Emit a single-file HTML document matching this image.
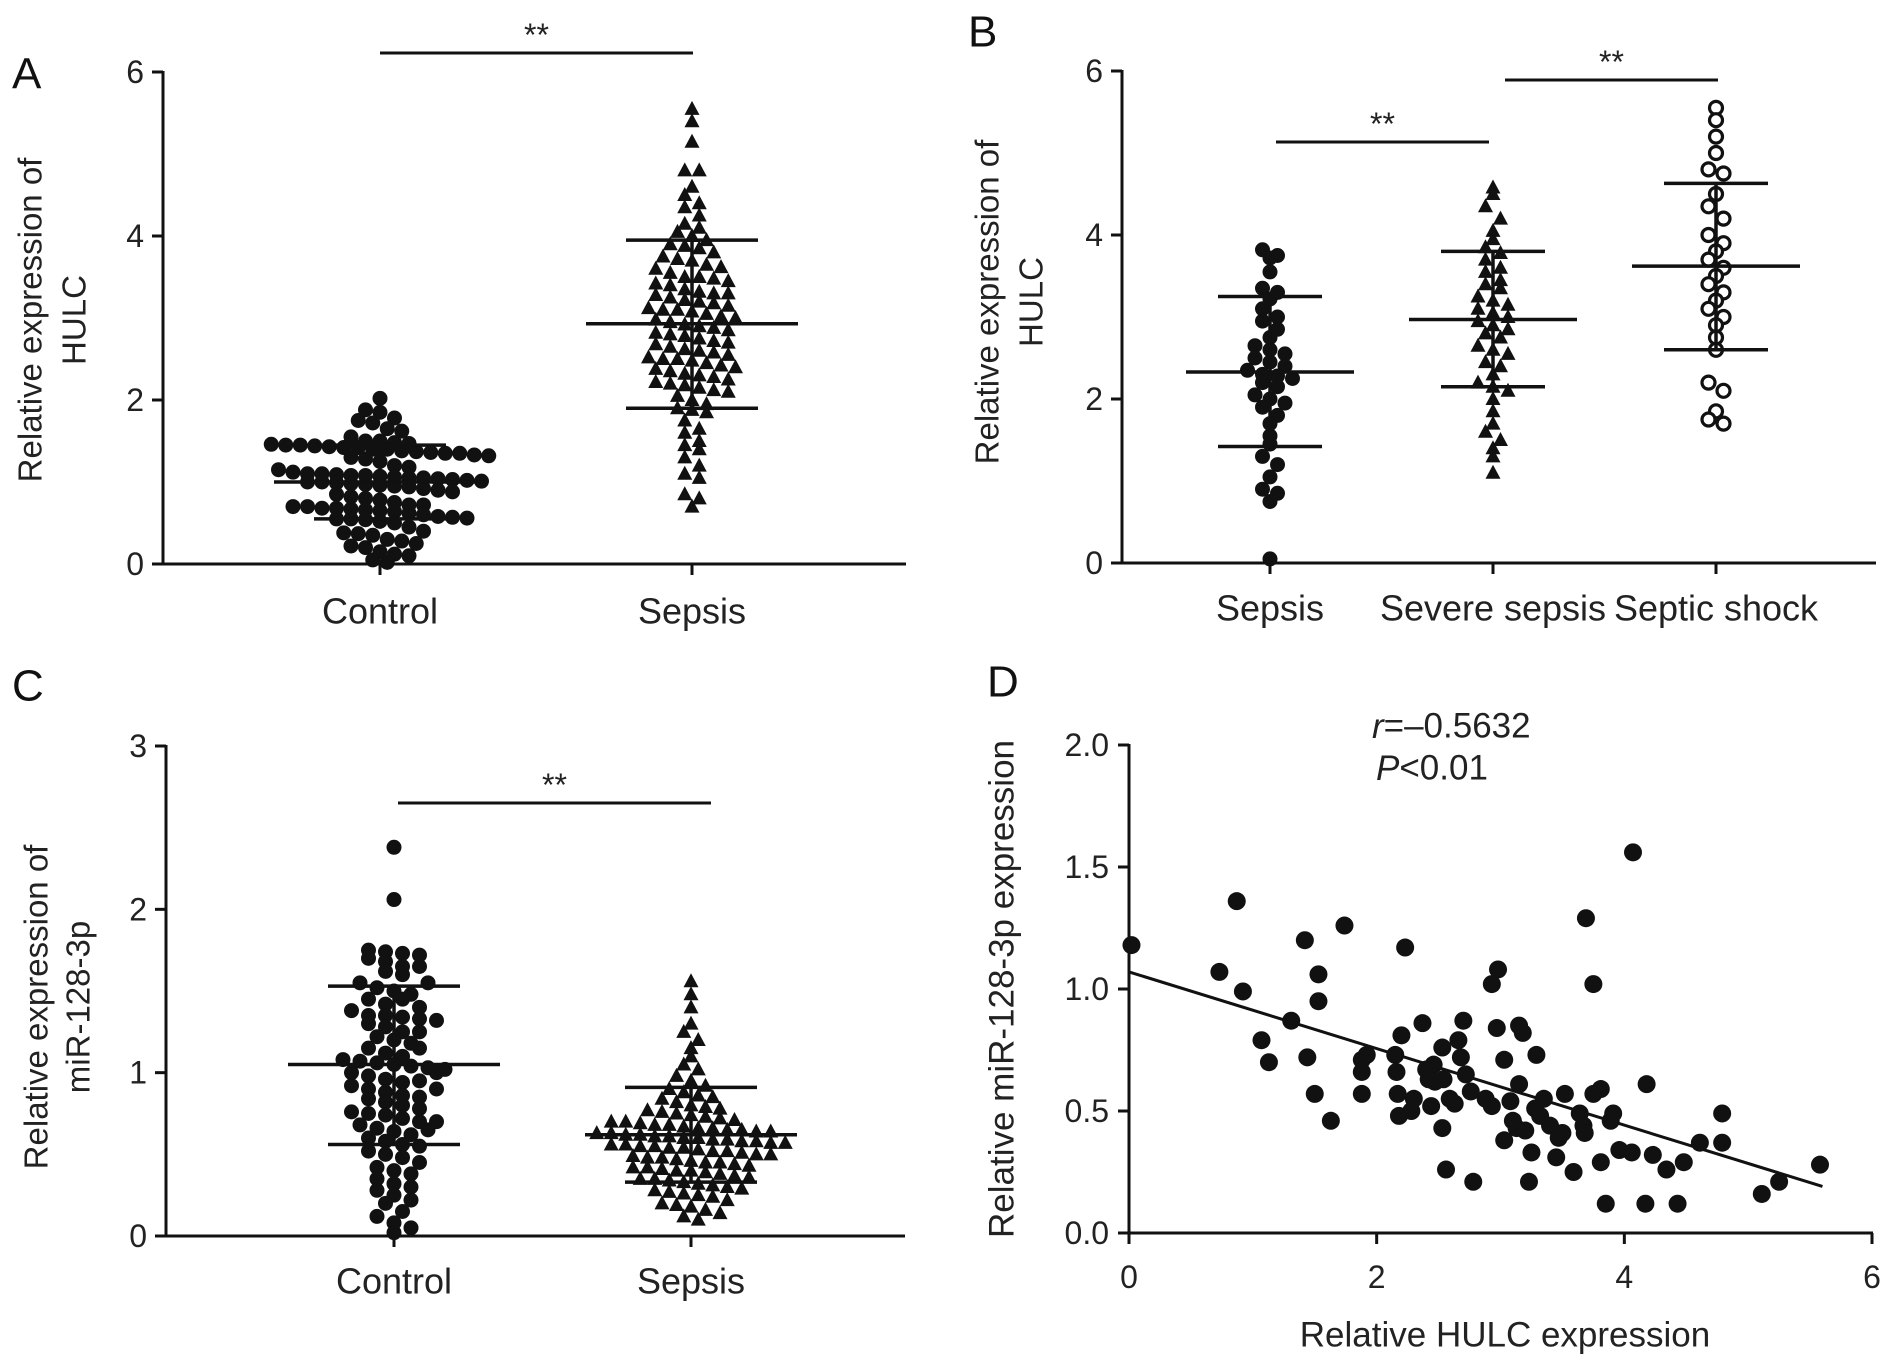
<!DOCTYPE html>
<html><head><meta charset="utf-8"><style>
html,body{margin:0;padding:0;background:#fff;}
svg{display:block;font-family:"Liberation Sans",Arial,sans-serif;}
</style></head><body>
<svg id="fig" width="1890" height="1367" viewBox="0 0 1890 1367" xmlns="http://www.w3.org/2000/svg"></svg>
<script>
// ---------- DATA ----------
const aCategories = ["Control","Sepsis"];
const aControl = [2.02,1.88,1.85,1.78,1.75,1.72,1.65,1.62,1.55,1.5,1.5,1.48,1.47,1.46,1.45,1.45,1.44,1.43,1.42,1.42,1.4,1.4,1.38,1.37,1.36,1.35,1.35,1.33,1.32,1.3,1.28,1.25,1.2,1.18,1.15,1.12,1.1,1.1,1.09,1.08,1.08,1.07,1.06,1.05,1.05,1.04,1.03,1.02,1.01,1.0,1.0,0.99,0.98,0.97,0.96,0.95,0.94,0.92,0.9,0.88,0.85,0.82,0.8,0.78,0.75,0.72,0.72,0.7,0.7,0.68,0.68,0.67,0.66,0.65,0.64,0.62,0.6,0.58,0.57,0.56,0.55,0.55,0.54,0.52,0.5,0.45,0.4,0.38,0.37,0.35,0.3,0.28,0.25,0.22,0.2,0.15,0.12,0.1,0.05,0.02];
const aSepsis = [5.55,5.4,5.15,4.8,4.8,4.6,4.5,4.4,4.35,4.25,4.15,4.1,4.05,4.0,3.95,3.9,3.88,3.85,3.8,3.75,3.72,3.7,3.65,3.62,3.6,3.55,3.5,3.5,3.48,3.45,3.42,3.4,3.35,3.32,3.3,3.3,3.28,3.25,3.22,3.2,3.18,3.15,3.12,3.1,3.1,3.08,3.05,3.02,3.0,2.98,2.95,2.92,2.9,2.88,2.85,2.82,2.8,2.78,2.75,2.72,2.7,2.68,2.65,2.62,2.6,2.58,2.55,2.52,2.5,2.5,2.48,2.45,2.42,2.4,2.38,2.35,2.32,2.3,2.28,2.25,2.22,2.2,2.18,2.15,2.12,2.1,2.05,2.0,1.95,1.9,1.88,1.85,1.75,1.65,1.6,1.5,1.45,1.4,1.3,1.2,1.1,1.05,0.85,0.8,0.7];
const aMeans = [1.0, 2.93];
const aSdHigh = [1.45, 3.95];
const aSdLow = [0.55, 1.9];
const aTicks = [0,2,4,6];

const bCategories = ["Sepsis","Severe sepsis","Septic shock"];
const bSepsis = [3.82,3.75,3.72,3.55,3.35,3.3,3.22,3.1,3.0,2.95,2.85,2.75,2.65,2.6,2.55,2.5,2.45,2.4,2.35,2.3,2.28,2.25,2.2,2.15,2.05,2.0,1.95,1.9,1.8,1.7,1.55,1.45,1.3,1.2,1.05,0.9,0.85,0.75,0.05];
const bSevere = [4.58,4.5,4.35,4.2,4.05,3.95,3.85,3.78,3.7,3.6,3.55,3.45,3.4,3.35,3.25,3.2,3.15,3.1,3.05,3.0,2.95,2.9,2.85,2.8,2.75,2.65,2.6,2.55,2.45,2.4,2.3,2.2,2.15,2.1,2.0,1.85,1.7,1.6,1.5,1.4,1.3,1.1];
const bShock = [5.55,5.4,5.2,5.0,4.8,4.75,4.5,4.35,4.2,4.0,3.9,3.8,3.7,3.6,3.5,3.4,3.3,3.2,3.1,3.0,2.9,2.75,2.6,2.2,2.1,1.85,1.75,1.7];
const bMeans = [2.33, 2.97, 3.62];
const bSdHigh = [3.25, 3.8, 4.63];
const bSdLow = [1.42, 2.15, 2.6];
const bTicks = [0,2,4,6];

const cCategories = ["Control","Sepsis"];
const cControl = [2.38,2.06,1.75,1.74,1.73,1.72,1.7,1.68,1.65,1.62,1.6,1.55,1.52,1.5,1.48,1.45,1.42,1.38,1.35,1.35,1.34,1.33,1.32,1.3,1.28,1.25,1.22,1.2,1.18,1.15,1.12,1.1,1.08,1.07,1.06,1.05,1.04,1.03,1.02,1.0,0.98,0.96,0.94,0.92,0.9,0.88,0.86,0.85,0.84,0.82,0.8,0.78,0.76,0.75,0.74,0.72,0.7,0.68,0.66,0.64,0.62,0.6,0.58,0.56,0.55,0.52,0.5,0.48,0.45,0.42,0.4,0.38,0.35,0.32,0.3,0.28,0.25,0.22,0.2,0.15,0.12,0.08,0.05,0.02,1.45,1.4,1.25,1.15,0.95,0.65,1.65,1.55,0.7,0.9,1.0];
const cSepsis = [1.56,1.48,1.4,1.3,1.25,1.2,1.15,1.1,1.05,1.02,0.98,0.95,0.92,0.9,0.88,0.86,0.85,0.84,0.82,0.8,0.79,0.78,0.77,0.76,0.75,0.74,0.73,0.72,0.71,0.7,0.7,0.69,0.68,0.68,0.67,0.66,0.66,0.65,0.65,0.64,0.64,0.63,0.63,0.62,0.62,0.61,0.61,0.6,0.6,0.59,0.59,0.58,0.58,0.57,0.57,0.56,0.56,0.55,0.55,0.54,0.54,0.53,0.52,0.52,0.51,0.5,0.5,0.49,0.48,0.48,0.47,0.46,0.45,0.45,0.44,0.43,0.42,0.42,0.41,0.4,0.4,0.39,0.38,0.37,0.36,0.35,0.35,0.34,0.33,0.32,0.31,0.3,0.29,0.28,0.27,0.26,0.25,0.24,0.22,0.2,0.19,0.18,0.16,0.14,0.12,0.1];
const cMeans = [1.05, 0.62];
const cSdHigh = [1.53, 0.91];
const cSdLow = [0.56, 0.33];
const cTicks = [0,1,2,3];

const dX = [0.02,0.73,0.87,0.92,1.31,1.42,1.53,1.53,1.07,1.13,1.44,1.5,1.63,1.74,1.88,1.92,1.88,1.88,2.15,2.16,2.17,2.18,2.2,2.23,2.3,2.28,2.37,2.4,2.42,2.46,2.47,2.44,2.53,2.54,2.53,2.56,2.59,2.63,2.66,2.68,2.7,2.72,2.76,2.78,2.88,2.93,2.93,2.98,2.97,3.03,3.03,3.08,3.1,3.13,3.15,3.15,3.18,3.2,3.23,3.25,3.28,3.29,3.32,3.35,3.4,3.45,3.47,3.5,3.52,3.59,3.64,3.67,3.68,3.69,3.75,3.75,3.81,3.81,3.85,3.89,3.91,3.96,4.06,4.07,4.17,4.18,4.23,4.34,4.43,4.48,4.61,4.79,4.79,5.11,5.25,5.58];
const dY = [1.18,1.07,1.36,0.99,0.87,1.2,1.06,0.95,0.79,0.7,0.72,0.57,0.46,1.26,0.71,0.73,0.66,0.57,0.73,0.66,0.57,0.48,0.81,1.17,0.55,0.5,0.86,0.67,0.63,0.69,0.62,0.52,0.76,0.63,0.43,0.26,0.55,0.53,0.79,0.72,0.87,0.65,0.58,0.21,0.55,0.52,1.02,1.08,0.84,0.71,0.38,0.54,0.46,0.43,0.61,0.85,0.82,0.42,0.21,0.33,0.51,0.73,0.48,0.55,0.44,0.31,0.39,0.41,0.57,0.25,0.49,0.44,0.41,1.29,1.02,0.57,0.59,0.29,0.12,0.46,0.49,0.34,0.33,1.56,0.12,0.61,0.32,0.26,0.12,0.29,0.37,0.49,0.37,0.16,0.21,0.28];
const dFit = [1.07, -0.157];
const dFitRange = [0, 5.6];
const dXTicks = [0,2,4,6];
const dYTicks = ["0.0","0.5","1.0","1.5","2.0"];

// ---------- HELPERS ----------
const NS = "http://www.w3.org/2000/svg";
const svg = document.getElementById("fig");
function mk(tag, attrs, parent){
  const e = document.createElementNS(NS, tag);
  for (const k in attrs) e.setAttribute(k, attrs[k]);
  (parent||svg).appendChild(e);
  return e;
}
function txt(str, x, y, size, anchor, parent, extra){
  const t = mk("text", Object.assign({x:x, y:y, "font-size":size, "text-anchor":anchor||"middle", "dominant-baseline":"central", fill:"#222"}, extra||{}), parent);
  t.textContent = str;
  return t;
}
function linearScale(d0,d1,r0,r1){ return v => r0 + (v-d0)*(r1-r0)/(d1-d0); }

function marker(kind, x, y, g){
  let e;
  if (kind === "circle") e = mk("circle",{cx:x,cy:y,r:7.5,fill:"#111"},g);
  else if (kind === "open") e = mk("circle",{cx:x,cy:y,r:6.5,fill:"#fff",stroke:"#111","stroke-width":3.2},g);
  else e = mk("polygon",{points:`${x},${y-8} ${x-7.5},${y+6} ${x+7.5},${y+6}`,fill:"#111"},g);
  
  
}

function swarm(values, cx, yS, kind, g, rowPx, dx){
  const rows = {};
  values.forEach(v => { const k = Math.round(yS(v)/rowPx); (rows[k]=rows[k]||[]).push(v); });
  Object.keys(rows).forEach(k => {
    const arr = rows[k];
    const n = arr.length;
    arr.forEach((v,i) => {
      const x = cx + (i - (n-1)/2)*dx;
      marker(kind, x, yS(v), g);
    });
  });
}

function dotPlot(cfg){
  const g = mk("g",{});
  
  
  const yS = linearScale(cfg.yMin, cfg.yMax, cfg.y0, cfg.y1);
  const ya = mk("line",{x1:cfg.ax,y1:cfg.y1-1,x2:cfg.ax,y2:cfg.y0+1.5,stroke:"#111","stroke-width":3},g);
   
  const xa = mk("line",{x1:cfg.ax-1.5,y1:cfg.y0,x2:cfg.axEnd,y2:cfg.y0,stroke:"#111","stroke-width":3},g);
   
  cfg.ticks.forEach(t => {
    const y = yS(t);
    mk("line",{x1:cfg.ax-11,y1:y,x2:cfg.ax,y2:y,stroke:"#111","stroke-width":3},g);
    const l = txt(String(t), cfg.ax-19, y, 32, "end", g);
     
  });
  cfg.groups.forEach((grp,i) => {
    const cx = cfg.cats[i];
    mk("line",{x1:cx,y1:cfg.y0,x2:cx,y2:cfg.y0+11,stroke:"#111","stroke-width":3},g);
    const l = txt(grp.label, cx, cfg.labelY, 36, "middle", g);
     
    swarm(grp.values, cx, yS, grp.kind, g, grp.rowPx||cfg.rowPx, grp.dx||cfg.dx);
    mk("line",{x1:cx,y1:yS(grp.hi),x2:cx,y2:yS(grp.lo),stroke:"#111","stroke-width":3.5},g);
    const m = mk("line",{x1:cx-cfg.meanW,y1:yS(grp.mean),x2:cx+cfg.meanW,y2:yS(grp.mean),stroke:"#111","stroke-width":3.5},g);
     
    mk("line",{x1:cx-cfg.sdW,y1:yS(grp.hi),x2:cx+cfg.sdW,y2:yS(grp.hi),stroke:"#111","stroke-width":3.5},g);
    mk("line",{x1:cx-cfg.sdW,y1:yS(grp.lo),x2:cx+cfg.sdW,y2:yS(grp.lo),stroke:"#111","stroke-width":3.5},g);
  });
  cfg.sig.forEach(s => {
    const b = mk("line",{x1:s[0],y1:s[2],x2:s[1],y2:s[2],stroke:"#111","stroke-width":3},g);
     
    const t = txt("**",(s[0]+s[1])/2, s[2]-18, 32, "middle", g);
     
  });
  cfg.titles.forEach(tt => {
    const t = txt(tt[0], tt[1], cfg.titleY, 33, "middle", g, {transform:`rotate(-90 ${tt[1]} ${cfg.titleY})`});
     
  });
  const p = txt(cfg.letter, cfg.letterPos[0], cfg.letterPos[1], 44, "start", g, {fill:"#111"});
   
}

// Panel A
dotPlot({name:"panel-a", yMin:0,yMax:6,y0:564,y1:72, ax:163, axEnd:906, ticks:aTicks,
  cats:[380,692], labelY:611, rowPx:12.5, dx:14.5, meanW:106, sdW:66,
  groups:[
    {label:aCategories[0], values:aControl, kind:"circle", mean:aMeans[0], hi:aSdHigh[0], lo:aSdLow[0]},
    {label:aCategories[1], values:aSepsis, kind:"tri", mean:aMeans[1], hi:aSdHigh[1], lo:aSdLow[1]}],
  sig:[[380,693,53]], titles:[["Relative expression of",30],["HULC",74]], titleY:320,
  letter:"A", letterPos:[12,74]});

// Panel B
dotPlot({name:"panel-b", yMin:0,yMax:6,y0:563,y1:71, ax:1122, axEnd:1876, ticks:bTicks,
  cats:[1270,1493,1716], labelY:608, rowPx:12.5, dx:15, meanW:84, sdW:52,
  groups:[
    {label:bCategories[0], values:bSepsis, kind:"circle", mean:bMeans[0], hi:bSdHigh[0], lo:bSdLow[0]},
    {label:bCategories[1], values:bSevere, kind:"tri", mean:bMeans[1], hi:bSdHigh[1], lo:bSdLow[1]},
    {label:bCategories[2], values:bShock, kind:"open", mean:bMeans[2], hi:bSdHigh[2], lo:bSdLow[2]}],
  sig:[[1276,1489,142],[1505,1718,80]], titles:[["Relative expression of",987],["HULC",1031]], titleY:302,
  letter:"B", letterPos:[968,32]});

// Panel C
dotPlot({name:"panel-c", yMin:0,yMax:3,y0:1236,y1:746, ax:166, axEnd:905, ticks:cTicks,
  cats:[394,691], labelY:1281, rowPx:11.5, dx:14.5, meanW:106, sdW:66,
  groups:[
    {label:cCategories[0], values:cControl, kind:"circle", mean:cMeans[0], hi:cSdHigh[0], lo:cSdLow[0], dx:17, rowPx:13},
    {label:cCategories[1], values:cSepsis, kind:"tri", mean:cMeans[1], hi:cSdHigh[1], lo:cSdLow[1]}],
  sig:[[398,711,803]], titles:[["Relative expression of",36],["miR-128-3p",78]], titleY:1007,
  letter:"C", letterPos:[12,686]});

// Panel D
(function(){
  const g = mk("g",{});
  
  
  const xS = linearScale(0,6,1129,1872);
  const yS = linearScale(0,2,1233,745);
  const ya = mk("line",{x1:1129,y1:744,x2:1129,y2:1234.5,stroke:"#111","stroke-width":3},g);
   
  const xa = mk("line",{x1:1127.5,y1:1233,x2:1873,y2:1233,stroke:"#111","stroke-width":3},g);
   
  dYTicks.forEach(t => {
    const y = yS(parseFloat(t));
    mk("line",{x1:1118,y1:y,x2:1129,y2:y,stroke:"#111","stroke-width":3},g);
    const l = txt(t, 1109, y, 32, "end", g);
     
  });
  dXTicks.forEach(t => {
    const x = xS(t);
    mk("line",{x1:x,y1:1233,x2:x,y2:1244,stroke:"#111","stroke-width":3},g);
    const l = txt(String(t), x, 1277, 32, "middle", g);
     
  });
  dX.forEach((x,i) => {
    const c = mk("circle",{cx:xS(x),cy:yS(dY[i]),r:9,fill:"#111"},g);
    
    
  });
  const fl = mk("line",{x1:xS(dFitRange[0]),y1:yS(dFit[0]+dFit[1]*dFitRange[0]),x2:xS(dFitRange[1]),y2:yS(dFit[0]+dFit[1]*dFitRange[1]),stroke:"#111","stroke-width":3},g);
   
  const r = mk("text",{x:1372,y:726,"font-size":35,"text-anchor":"start","dominant-baseline":"central",fill:"#222"},g);
   
  r.innerHTML = '<tspan font-style="italic">r</tspan>=\u20130.5632';
  const p = mk("text",{x:1376,y:768,"font-size":35,"text-anchor":"start","dominant-baseline":"central",fill:"#222"},g);
   
  p.innerHTML = '<tspan font-style="italic">P</tspan>&lt;0.01';
  const yt = txt("Relative miR-128-3p expression", 1002, 989, 35, "middle", g, {transform:"rotate(-90 1002 989)"});
   
  const xt = txt("Relative HULC expression", 1505, 1335, 35, "middle", g);
   
  const pl = txt("D", 987, 682, 44, "start", g, {fill:"#111"});
   
})();
</script>
</body></html>
